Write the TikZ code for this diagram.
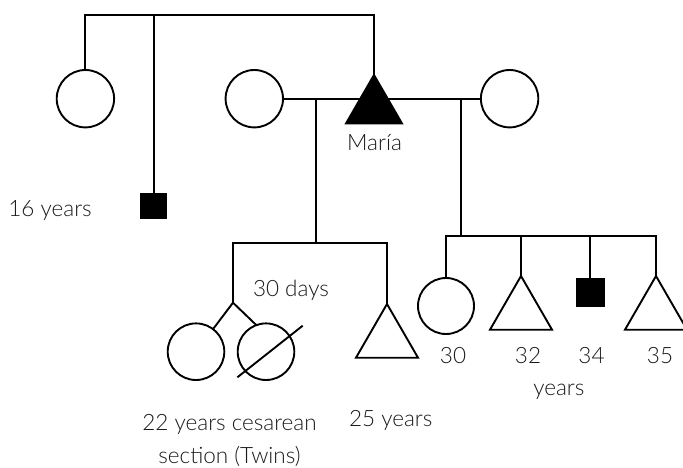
\documentclass[tikz,border=0pt]{standalone}
\usepackage{fontspec}
\setmainfont{Lato}[UprightFont={* Light}]
\usetikzlibrary{shapes.geometric}
\begin{document}
\begin{tikzpicture}[x=1pt,y=-1pt,
  line width=1.9pt, line join=miter,
  fem/.style={circle,draw,inner sep=0pt,outer sep=0pt,minimum size=#1},
  tri/.style={regular polygon,regular polygon sides=3,draw,inner sep=0pt,outer sep=0pt,minimum size=#1},
  sqr/.style={rectangle,fill=black,draw=none,inner sep=0pt,outer sep=0pt,minimum size=#1},
  lbl/.style={font=\fontsize{22.5}{33}\selectfont,text=black!90,inner sep=0pt}]
\useasboundingbox (0,0) rectangle (683,468);
% first generation
\node[fem=57.4pt] (lc) at (85.4,98.7) {};
\node[fem=57.4pt] (mc) at (254.3,98.7) {};
\node[fem=57.4pt] (rc) at (509.6,98.7) {};
\draw (mc.east) -- (rc.west);
\node[tri=64.6pt,fill=black] (maria) at (374,107.3) {};
\node[sqr=26.5pt] (s16) at (153.7,206) {};
\coordinate (topmid) at (153.7,15);
\draw (lc.north) |- (topmid) -| (maria.corner 1);
\draw (topmid) -- (s16.north);
% first marriage descendants
\coordinate (d1) at (315.8,98.7);
\coordinate (sib1) at (315.8,243.3);
\coordinate (sibL) at (233,243.3);
\coordinate (split) at (233,302.7);
\node[fem=56.6pt] (tw1) at (196,351.7) {};
\node[fem=56.6pt] (tw2) at (266,351.7) {};
\node[tri=71.6pt] (t25) at (387,339.8) {};
\draw (d1) -- (sib1);
\draw (split) -- (sibL) -- (t25.corner 1 |- sibL) -- (t25.corner 1);
\draw (tw1.53) -- (split) -- (tw2.110);
\draw ([shift={(-28.6,25.6)}]tw2.center) -- ([shift={(36.7,-26)}]tw2.center);
% second marriage descendants
\coordinate (d2) at (460.8,98.7);
\coordinate (sib2) at (460.8,236);
\node[fem=56pt] (c30) at (446,306) {};
\node[tri=71.6pt] (t32) at (521,311.8) {};
\node[sqr=29pt] (s34) at (590.4,292) {};
\node[tri=71.6pt] (t35) at (656,311.8) {};
\draw (d2) -- (sib2);
\draw (c30.north) |- (t35.corner 1 |- sib2) -- (t35.corner 1);
\draw (t32.corner 1) -- (t32.corner 1 |- sib2);
\draw (s34.north) -- (s34.north |- sib2);
% labels
\node[lbl] (l16) at (50,210) {16 years};
\node[lbl] (lmaria) at (374.5,143) {María};
\node[lbl] (l30d) at (291,290) {30 days};
\node[lbl,align=center] (l22) at (229.5,440) {22 years cesarean\\section (Twins)};
\node[lbl] (l25) at (390.7,420.7) {25 years};
\node[lbl] (n30) at (453,356) {30};
\node[lbl] (n32) at (528,356) {32};
\node[lbl] (n34) at (591.5,356) {34};
\node[lbl] (n35) at (660,356) {35};
\node[lbl] (lyears) at (558.8,391.7) {years};
\end{tikzpicture}
\end{document}
